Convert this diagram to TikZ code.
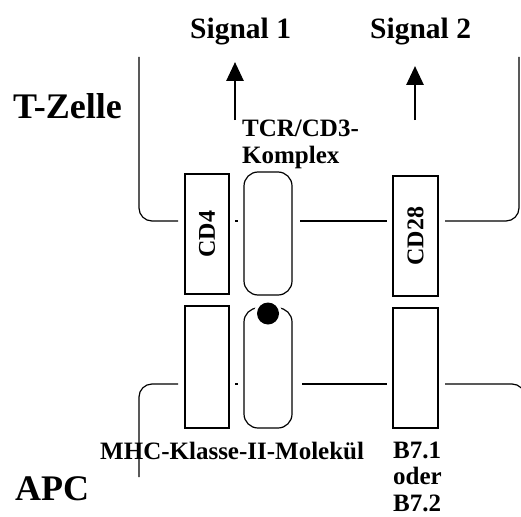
\documentclass[tikz,border=0pt]{standalone}
\usepackage{fontspec}
\setmainfont{Liberation Serif}
\usetikzlibrary{arrows.meta}
\begin{document}
\begin{tikzpicture}[x=1pt,y=-1pt,
  memb/.style={line width=1.2pt, rounded corners=13pt},
  molbox/.style={draw, line width=1.2pt, inner sep=0pt, minimum width=44pt, minimum height=120pt},
  tcrbox/.style={molbox, minimum width=48pt, rounded corners=14pt},
  lab/.style={font=\fontsize{25}{26.5}\selectfont\bfseries, inner sep=0pt, anchor=base west, align=left},
  biglab/.style={font=\fontsize{36}{38}\selectfont\bfseries, inner sep=0pt, anchor=base west},
  siglab/.style={font=\fontsize{29.5}{31}\selectfont\bfseries, inner sep=0pt, anchor=base west},
  sigarrow/.style={line width=2.8pt, -{Triangle[width=17pt,length=19pt]}}
]
\useasboundingbox (0,0) rectangle (521,516);

% molecules
\node[molbox] (cd4) at (207,234) {\rotatebox{90}{\fontsize{24}{26}\selectfont\bfseries CD4}};
\node[molbox, minimum height=122pt] (mhca) at (207,367) {};
\node[tcrbox, minimum height=123pt] (tcr) at (268,233.5) {};
\node[tcrbox] (mhcb) at (268,368) {};
\node[molbox, minimum width=45pt] (cd28) at (415.5,236) {\rotatebox{90}{\fontsize{24}{26}\selectfont\bfseries CD28}};
\node[molbox, minimum width=45pt] (b7) at (415.5,368) {};

% peptide
\fill[white] (268,313.5) circle[radius=14];
\node[circle, fill=black, inner sep=0pt, minimum size=22pt] (pep) at (268,313.5) {};

% membranes
\coordinate (tl) at (139,57);
\coordinate (tr) at (519,57);
\coordinate (bl) at (139,477);
\coordinate (br) at (525,560);
\draw[memb] (tl) |- (178,221);
\draw[memb] (235,221) -- (238,221);
\draw[memb] (300,221) -- (387,221);
\draw[memb] (445,221) -| (tr);
\draw[memb] (178,384) -| (bl);
\draw[memb] (235,384) -- (238,384);
\draw[memb] (302,384) -- (387,384);
\draw[memb] (445,384) -| (br);

% labels
\node[siglab] (s1) at (190,39) {Signal 1};
\node[siglab] (s2) at (370,39) {Signal 2};
\node[biglab] (tz) at (13,118) {T-Zelle};
\node[biglab] (apc) at (15,500) {APC};
\node[lab] (tcrl) at (242,163) {TCR/CD3-\\Komplex};
\node[lab] (mhcl) at (100,459) {MHC-Klasse-II-Molekül};
\node[lab] (b7l) at (393,511) {B7.1\\oder\\B7.2};

% signal arrows
\coordinate (a1s) at (235,120);
\coordinate (a1e) at (235,62);
\coordinate (a2s) at (415,120);
\coordinate (a2e) at (415,66);
\draw[sigarrow] (a1s) -- (a1e);
\draw[sigarrow] (a2s) -- (a2e);
\end{tikzpicture}
\end{document}
